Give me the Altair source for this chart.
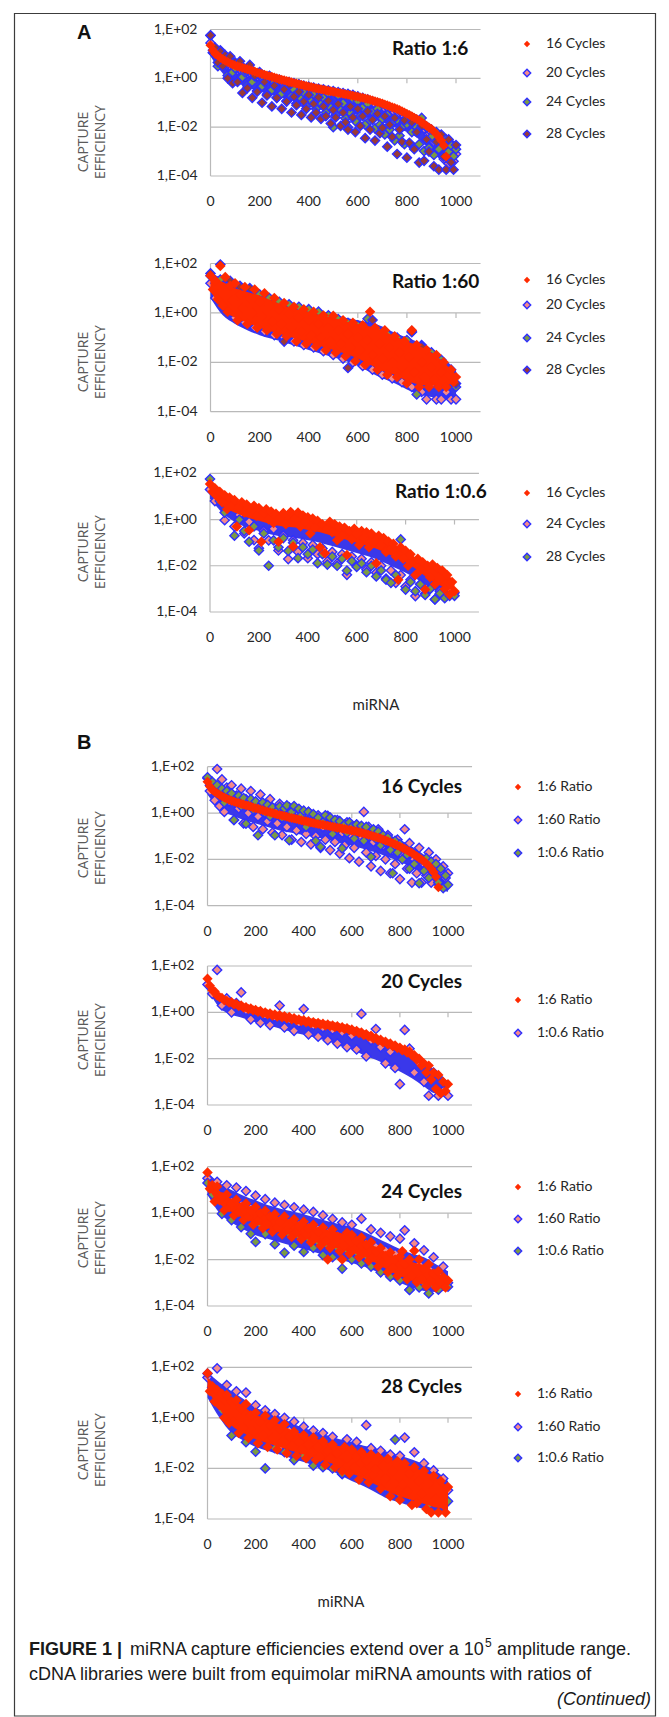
import altair as alt
import pandas as pd

W, H = 669, 1717

# ---------------------------------------------------------------------------
# Data: log10(capture efficiency), one value per rank step
# (R6 = ratio 1:6, R60 = ratio 1:60, R06 = ratio 1:0.6 ; C16 = 16 cycles ...)
# ---------------------------------------------------------------------------
R6_C16 = [1.35, 1.15, 1.0, 0.92, 0.85, 0.78, 0.72, 0.67, 0.62, 0.57,
          0.53, 0.5, 0.46, 0.43, 0.4, 0.37, 0.34, 0.31, 0.28, 0.24,
          0.21, 0.18, 0.15, 0.12, 0.09, 0.06, 0.03, 0.0, -0.03, -0.06,
          -0.08, -0.11, -0.13, -0.16, -0.19, -0.21, -0.24, -0.26, -0.29, -0.31,
          -0.34, -0.36, -0.39, -0.41, -0.43, -0.45, -0.47, -0.49, -0.51, -0.53,
          -0.55, -0.57, -0.59, -0.61, -0.63, -0.65, -0.67, -0.69, -0.71, -0.73,
          -0.75, -0.78, -0.8, -0.83, -0.85, -0.88, -0.91, -0.94, -0.97, -1.0,
          -1.03, -1.07, -1.1, -1.14, -1.18, -1.22, -1.26, -1.3, -1.35, -1.4,
          -1.45, -1.5, -1.55, -1.61, -1.67, -1.73, -1.8, -1.87, -1.94, -2.01,
          -2.08, -2.18, -2.28, -2.4, -2.55, -2.75, -3.2]

R6_C20 = [1.45, 1.15, 0.95, 0.9, 0.72, 0.66, 0.62, 0.52, 0.5, 0.42,
          0.44, 0.34, 0.36, 0.27, 0.3, 0.2, 0.22, 0.14, 0.17, 0.08,
          0.11, 0.02, 0.06, -0.04, 0.0, -0.09, -0.04, -0.14, -0.09, -0.18,
          -0.12, -0.22, -0.16, -0.26, -0.2, -0.3, -0.25, -0.35, -0.3, -0.38,
          -0.34, -0.43, -0.38, -0.47, -0.42, -0.5, -0.45, -0.53, -0.49, -0.57,
          -0.52, -0.6, -0.56, -0.64, -0.6, -0.68, -0.64, -0.72, -0.68, -0.77,
          -0.74, -0.84, -0.8, -0.9, -0.86, -0.98, -0.94, -1.05, -1.01, -1.13,
          -1.1, -1.22, -1.18, -1.3, -1.26, -1.38, -1.34, -1.46, -1.43, -1.55,
          -1.52, -1.64, -1.6, -1.74, -1.7, -1.86, -1.85, -2.05, -2.0, -2.3,
          -2.2, -2.6, -2.3, -2.9, -2.6, -3.3, -2.7, -3.5, -3.0, -3.4,
          -3.1]

R6_C24 = [1.75, 1.05, 1.2, 0.5, 1.15, 0.55, 0.7, 0.12, 0.8, 0.25,
          0.42, -0.1, 0.58, 0.05, 0.25, -0.3, 0.42, -0.15, 0.09, -0.5,
          0.26, -0.32, 0.0, -0.65, 0.1, -0.47, -0.15, -0.8, -0.05, -0.62,
          -0.37, -0.92, -0.15, -0.73, -0.47, -1.03, -0.26, -0.83, -0.58, -1.13,
          -0.37, -0.93, -0.66, -1.25, -0.5, -1.05, -0.8, -1.4, -0.62, -1.2,
          -2.0, -1.5, -0.7, -1.3, -1.02, -1.64, -2.0, -1.42, -0.85, -1.75,
          -0.94, -1.55, -1.2, -1.9, -1.05, -1.72, -1.36, -2.05, -1.25, -1.9,
          -1.65, -2.3, -1.5, -2.1, -1.85, -2.54, -1.7, -2.35, -2.0, -2.7,
          -1.88, -1.64, -2.2, -2.85, -2.0, -2.7, -1.62, -2.98, -2.0, -2.85,
          -2.4, -3.14, -2.2, -2.9, -2.6, -3.2, -2.5, -3.0, -2.75, -3.2,
          -2.9]

R6_C28 = [1.76, 1.05, 1.25, 0.65, 1.1, 0.5, 0.95, 0.0, 0.9, -0.2,
          0.65, -0.15, 0.7, -0.6, 0.35, -0.4, 0.55, -0.8, 0.1, -0.55,
          0.2, -1.0, -0.15, -0.7, 0.08, -1.15, -0.3, -0.8, -0.1, -1.25,
          -0.45, -0.95, -0.25, -1.4, -0.75, -1.1, -0.55, -1.5, -0.95, -1.25,
          -0.68, -1.6, -1.05, -1.4, -0.78, -1.66, -1.15, -1.55, -0.92, -1.85,
          -1.3, -1.6, -1.05, -1.95, -1.4, -1.8, -2.1, -1.15, -1.6, -2.2,
          -1.25, -1.95, -1.55, -2.45, -1.35, -2.1, -1.7, -2.55, -1.45, -2.25,
          -2.03, -1.55, -2.8, -1.9, -2.4, -1.62, -3.1, -2.1, -2.6, -1.72,
          -3.25, -2.64, -1.8, -2.9, -2.2, -3.45, -1.95, -3.38, -2.5, -3.0,
          -2.1, -3.6, -2.6, -3.74, -2.3, -3.2, -3.74, -2.5, -3.44, -3.74,
          -2.73]

R60_C16 = [1.5, 0.95, 1.3, 0.55, 1.9, 0.3, 1.45, 0.05, 1.1, 0.5,
           1.2, -0.3, 0.75, 0.2, 1.05, -0.45, 0.6, 0.0, 0.95, -0.6,
           0.45, -0.15, 0.8, -0.7, 0.3, -0.35, 0.6, -0.85, 0.15, -0.45,
           0.4, -0.95, -0.05, -0.6, 0.25, -1.15, -0.2, -0.75, 0.15, -1.25,
           -0.3, -0.9, 0.05, -1.35, -0.45, -1.0, -0.1, -1.5, -0.6, -1.15,
           -0.12, -1.6, -0.7, -1.25, -0.3, -1.75, -0.85, -1.4, -0.4, -1.95,
           -1.0, -1.5, -0.5, -2.1, -1.1, 0.05, -1.7, -0.6, -2.3, -1.25,
           -1.85, -0.7, -2.5, -1.4, -2.0, -0.95, -2.6, -1.6, -2.2, -1.15,
           -2.85, -1.8, -0.7, -2.4, -1.3, -3.0, -2.0, -2.6, -1.5, -3.0,
           -2.2, -2.7, -1.7, -3.0, -2.4, -2.0, -3.0, -2.5, -2.3, -2.8,
           -2.6]

R06_C16 = [1.54, 1.2, 1.35, 1.0, 1.2, 0.75, 1.05, 0.45, 0.95, 0.6,
           0.85, -0.3, 0.55, 0.75, 0.3, 0.65, -0.46, 0.4, 0.6, 0.15,
           0.5, -0.96, 0.3, 0.45, 0.0, 0.35, -0.15, 0.25, -0.96, 0.1,
           0.28, -0.2, 0.2, 0.33, -1.17, 0.05, 0.3, -0.3, 0.18, -0.1,
           0.1, -0.6, 0.05, -0.35, -0.05, -1.2, -0.2, -1.46, -0.4, -0.1,
           -0.55, -0.2, -0.9, -0.3, -0.7, -0.35, -1.53, -0.5, -0.85, -0.4,
           -0.6, -1.1, -0.5, -0.8, -0.55, -1.2, -0.6, -1.0, -1.89, -0.7,
           -1.1, -0.8, -1.4, -0.95, -1.25, -1.05, -1.6, -2.6, -1.2, -1.7,
           -1.35, -2.0, -1.5, -1.8, -2.4, -1.7, -2.2, -1.85, -3.03, -2.0,
           -2.5, -1.95, -2.8, -2.1, -2.6, -2.2, -3.0, -2.4, -3.24, -2.7,
           -3.1]

R60_C20 = [1.2, 0.6, 0.9, 0.2, 0.55, -0.2, 0.3, -0.4, 0.1, -0.6,
           -0.1, -0.75, -0.2, -0.9, -0.35, -1.0, -0.45, -1.15, -0.6, -1.3,
           -0.7, -1.4, -0.85, -1.55, -1.0, -1.7, -1.1, -1.85, -1.25, -2.0,
           -1.4, -2.15, -1.55, -2.3, -1.7, -2.5, -1.9, -2.65, -2.1, -2.8,
           -2.3, -3.0, -2.5, -3.2, -3.5, -2.9, -3.5, -3.5, -3.2, -3.5,
           -3.5]

R60_C24 = [1.5, 1.0, 1.35, 0.7, 1.2, 0.5, 1.1, 0.35, 0.95, 0.2,
           0.75, 0.0, 0.6, -0.15, 0.45, -0.3, 0.35, -0.4, 0.25, -0.5,
           0.15, -0.6, 0.05, -0.7, -0.1, -0.85, -0.25, -0.95, -0.4, -1.05,
           -0.5, -1.15, -0.24, -1.3, -0.7, -1.45, -0.85, -1.6, -1.0, -1.75,
           -1.1, -0.74, -3.3, -1.3, -2.2, -1.6, -2.4, -1.9, -2.7, -2.3,
           -3.0]

R60_C28 = [1.6, 1.2, 1.96, 0.9, 1.3, 0.6, 1.05, 0.3, 1.0, 0.1,
           0.5, -0.2, 0.3, -0.4, 0.15, -1.16, 0.0, -0.5, -0.15, -0.75,
           -0.35, -0.9, -0.5, -1.05, -0.6, -1.2, -0.75, -1.3, -2.23, -0.85,
           -1.45, -0.95, -1.6, -0.29, -1.2, -1.75, -1.3, -1.85, -1.45, -2.0,
           -1.5, -0.78, -2.15, -1.36, -2.3, -1.8, -2.5, -2.08, -2.7, -2.4,
           -2.86]

R06_C20 = [1.2, 0.8, 1.83, 0.3, 0.6, 0.0, 0.4, 0.86, 0.1, -0.3,
           0.05, -0.45, -0.1, -0.55, -0.2, 0.29, -0.65, -0.3, -0.8, -0.45,
           0.14, -0.95, -0.55, -1.05, -0.65, -1.2, -0.75, -1.35, -0.85, -1.5,
           -1.0, -1.6, -0.07, -1.9, -1.2, -0.72, -1.5, -2.2, -1.7, -2.4,
           -3.1, -0.76, -1.57, -2.6, -2.2, -3.0, -3.6, -2.6, -3.6, -3.4,
           -3.6]

R06_C24 = [1.3, 0.8, 0.9, -0.03, 0.5, -0.3, 0.2, -0.6, -0.1, -0.89,
           -1.24, -0.5, -0.9, -0.4, -1.34, -0.7, -1.71, -0.9, -1.4, -1.0,
           -1.67, -1.1, -1.5, -1.25, -1.81, -1.4, -1.9, -1.5, -2.39, -1.6,
           -2.0, -1.7, -2.17, -1.85, -2.3, -2.0, -2.55, -2.2, -2.74, -2.4,
           -2.9, -2.6, -3.31, -2.8, -3.2, -3.0, -3.46, -3.1, -3.3, -3.0,
           -3.17]

R06_C28 = [1.75, 1.2, 0.8, 0.3, 0.5, -0.7, 0.0, -0.5, -0.96, -0.3,
           -1.34, -0.6, -2.0, -0.9, -1.2, -0.8, -1.36, -1.0, -1.67, -1.2,
           -1.5, -1.3, -1.89, -1.5, -1.95, -1.6, -2.0, -1.7, -2.21, -1.8,
           -2.05, -1.9, -2.28, -2.0, -2.46, -2.2, -2.6, -2.74, -2.4, -0.86,
           -3.03, -2.7, -3.1, -2.8, -3.26, -3.0, -3.45, -3.2, -3.4, -3.3,
           -3.3]

DATA = {"R6_C16": R6_C16, "R6_C20": R6_C20, "R6_C24": R6_C24, "R6_C28": R6_C28,
        "R60_C16": R60_C16, "R60_C20": R60_C20, "R60_C24": R60_C24, "R60_C28": R60_C28,
        "R06_C16": R06_C16, "R06_C20": R06_C20, "R06_C24": R06_C24, "R06_C28": R06_C28}
# miRNA rank spacing between consecutive values of each list
STEP = {"R6_C16": 10, "R6_C20": 10, "R6_C24": 10, "R6_C28": 10,
        "R60_C16": 10, "R60_C20": 20, "R60_C24": 20, "R60_C28": 20,
        "R06_C16": 10, "R06_C20": 20, "R06_C24": 20, "R06_C28": 20}

# Envelopes (upper / lower log10 edge, every 50 ranks) of the solid cores where
# hundreds of overlapping markers merge into one coloured mass.
BAND_STEP = 50
A1_BLUE_HI = [1.5, 0.95, 0.65, 0.5, 0.35, 0.2, 0.05, -0.08, -0.2, -0.32, -0.42,
              -0.52, -0.62, -0.75, -0.9, -1.08, -1.3, -1.55, -1.9, -2.3, -2.6]
A1_BLUE_LO = [0.9, 0.2, -0.15, -0.35, -0.54, -0.68, -0.82, -0.95, -1.1, -1.2, -1.3,
              -1.4, -1.5, -1.65, -1.8, -2.0, -2.2, -2.5, -3.0, -3.4, -3.5]
A2_RED_HI = [1.4, 1.25, 1.0, 0.85, 0.7, 0.5, 0.3, 0.15, 0.05, -0.1, -0.2,
             -0.35, -0.45, -0.55, -0.7, -0.95, -1.15, -1.35, -1.6, -2.0, -2.5]
A2_RED_LO = [0.9, 0.15, -0.2, -0.4, -0.6, -0.75, -0.9, -1.05, -1.2, -1.35, -1.5,
             -1.65, -1.85, -2.1, -2.35, -2.5, -2.75, -2.9, -2.95, -2.95, -2.8]
A2_BLUE_HI = [1.6, 1.4, 1.15, 1.0, 0.85, 0.65, 0.45, 0.3, 0.2, 0.05, -0.05,
              -0.2, -0.3, -0.4, -0.55, -0.8, -1.0, -1.2, -1.45, -1.85, -2.3]
A2_BLUE_LO = [0.6, -0.1, -0.45, -0.7, -0.9, -1.05, -1.2, -1.35, -1.5, -1.65, -1.8,
              -1.95, -2.15, -2.4, -2.65, -2.85, -3.1, -3.3, -3.4, -3.5, -3.5]
A3_RED_HI = [1.5, 1.1, 0.85, 0.65, 0.5, 0.32, 0.28, 0.3, 0.1, -0.05, -0.2,
             -0.35, -0.46, -0.6, -0.75, -1.05, -1.35, -1.7, -1.95, -2.15, -2.7]
A3_RED_LO = [1.1, 0.6, 0.3, 0.1, -0.05, -0.2, -0.3, -0.35, -0.45, -0.55, -0.7,
             -0.85, -1.0, -1.15, -1.35, -1.6, -1.85, -2.2, -2.6, -2.9, -3.1]
A3_BLUE_HI = [1.2, 0.7, 0.4, 0.2, 0.05, -0.1, -0.2, -0.25, -0.35, -0.45, -0.6,
              -0.75, -0.9, -1.05, -1.25, -1.5, -1.75, -2.1, -2.5, -2.8, -3.0]
A3_BLUE_LO = [0.9, 0.3, -0.1, -0.35, -0.5, -0.65, -0.75, -0.8, -0.9, -1.0, -1.15,
              -1.3, -1.45, -1.6, -1.8, -2.05, -2.3, -2.6, -2.95, -3.2, -3.3]
B1_BLUE_HI = [1.7, 1.1, 0.8, 0.6, 0.45, 0.3, 0.15, 0.05, -0.1, -0.2, -0.3,
              -0.4, -0.5, -0.6, -0.75, -0.95, -1.15, -1.45, -1.8, -2.3, -2.6]
B1_BLUE_LO = [0.8, 0.15, -0.1, -0.3, -0.45, -0.6, -0.75, -0.85, -0.95, -1.05, -1.15,
              -1.3, -1.4, -1.55, -1.7, -1.9, -2.1, -2.35, -2.7, -3.2, -3.4]
B2_BLUE_HI = [1.3, 0.7, 0.45, 0.25, 0.1, -0.02, -0.14, -0.26, -0.36, -0.44, -0.52,
              -0.6, -0.72, -0.9, -1.1, -1.35, -1.6, -1.9, -2.2, -2.5, -3.0]
B2_BLUE_LO = [1.0, 0.2, -0.1, -0.25, -0.43, -0.55, -0.7, -0.85, -0.97, -1.1, -1.25,
              -1.45, -1.6, -1.85, -2.05, -2.3, -2.55, -2.85, -3.2, -3.5, -3.5]
B3_RED_HI = [1.5, 0.95, 0.6, 0.38, 0.2, 0.0, -0.18, -0.3, -0.43, -0.6, -0.73,
             -0.85, -1.0, -1.17, -1.46, -1.72, -1.94, -2.1, -2.25, -2.55, -2.9]
B3_RED_LO = [1.1, 0.4, 0.05, -0.22, -0.45, -0.64, -0.82, -0.95, -1.08, -1.25, -1.4,
             -1.55, -1.7, -1.87, -2.15, -2.45, -2.7, -2.9, -3.05, -3.15, -3.15]
B3_BLUE_HI = [1.75, 1.3, 1.0, 0.75, 0.55, 0.35, 0.2, 0.08, -0.05, -0.2, -0.35,
              -0.48, -0.6, -0.8, -1.05, -1.3, -1.55, -1.75, -1.9, -2.2, -2.5]
B3_BLUE_LO = [0.8, 0.0, -0.4, -0.7, -0.95, -1.1, -1.25, -1.4, -1.55, -1.7, -1.85,
              -2.0, -2.15, -2.3, -2.5, -2.75, -3.0, -3.2, -3.35, -3.4, -3.3]
B4_RED_HI = [1.6, 1.15, 0.8, 0.45, 0.12, -0.05, -0.25, -0.48, -0.68, -0.82, -0.97,
             -1.12, -1.22, -1.36, -1.47, -1.62, -1.77, -1.93, -2.12, -2.38, -2.7]
B4_RED_LO = [1.1, 0.35, -0.3, -0.6, -0.85, -1.0, -1.15, -1.3, -1.45, -1.6, -1.75,
             -1.95, -2.2, -2.4, -2.65, -2.9, -3.1, -3.25, -3.4, -3.55, -3.6]
B4_BLUE_HI = [1.8, 1.4, 1.05, 0.75, 0.4, 0.25, 0.05, -0.2, -0.4, -0.55, -0.7,
              -0.85, -0.95, -1.1, -1.2, -1.35, -1.5, -1.65, -1.85, -2.1, -2.5]
B4_BLUE_LO = [0.8, 0.0, -0.6, -0.9, -1.15, -1.3, -1.45, -1.6, -1.75, -1.9, -2.05,
              -2.25, -2.5, -2.7, -2.95, -3.2, -3.35, -3.5, -3.6, -3.7, -3.7]

Y_TICKS = [1e2, 1.0, 1e-2, 1e-4]
Y_LABELS = ["1,E+02", "1,E+00", "1,E-02", "1,E-04"]
X_TICKS = [0, 200, 400, 600, 800, 1000]

# ---------------------------------------------------------------------------
RED = "#ff2a00"
BLUE = "#2f2fff"
MASS_BLUE = "#3a38ea"
FILL = {"pink": "#f48a8a", "green": "#7b9a45", "brown": "#9a3a36"}
GRID = "#b9b9b9"
TXT = "#262626"
FONT = "Lato"

PANELS = [
    dict(x0=210.5, k=0.2455, ytop=29.5, ybot=176.0, title="Ratio 1:6", tx=392, ty=49, red=100,
         blue=(A1_BLUE_HI, A1_BLUE_LO), core=None,
         series=[("R6_C20", "pink"), ("R6_C24", "green"), ("R6_C28", "brown"), ("R6_C16", "red")],
         legend=[("16 Cycles", "red", 44), ("20 Cycles", "pink", 73),
                 ("24 Cycles", "green", 102), ("28 Cycles", "brown", 134)],
         lx=527, yt=142),
    dict(x0=210.5, k=0.2455, ytop=263.5, ybot=411.7, title="Ratio 1:60", tx=392, ty=282, red=110,
         blue=(A2_BLUE_HI, A2_BLUE_LO), core=(A2_RED_HI, A2_RED_LO),
         series=[("R60_C20", "pink"), ("R60_C24", "green"), ("R60_C28", "brown"), ("R60_C16", "red")],
         legend=[("16 Cycles", "red", 280), ("20 Cycles", "pink", 305),
                 ("24 Cycles", "green", 338), ("28 Cycles", "brown", 370)],
         lx=527, yt=362),
    dict(x0=210.0, k=0.2445, ytop=473.3, ybot=612.0, title="Ratio 1:0.6", tx=395, ty=492, red=110,
         blue=(A3_BLUE_HI, A3_BLUE_LO), core=(A3_RED_HI, A3_RED_LO),
         series=[("R06_C24", "pink"), ("R06_C28", "green"), ("R06_C16", "red")],
         legend=[("16 Cycles", "red", 493), ("24 Cycles", "pink", 524), ("28 Cycles", "green", 557)],
         lx=527, yt=552),
    dict(x0=207.5, k=0.2405, ytop=766.7, ybot=905.7, title="16 Cycles", tx=381, ty=787, red=100,
         blue=(B1_BLUE_HI, B1_BLUE_LO), core=None,
         series=[("R60_C16", "pink"), ("R06_C16", "green"), ("R6_C16", "red")],
         legend=[("1:6 Ratio", "red", 787), ("1:60 Ratio", "pink", 820), ("1:0.6 Ratio", "green", 853)],
         lx=518, yt=848),
    dict(x0=207.5, k=0.2405, ytop=966.0, ybot=1105.0, title="20 Cycles", tx=381, ty=982, red=105,
         blue=(B2_BLUE_HI, B2_BLUE_LO), core=None,
         series=[("R06_C20", "pink"), ("R6_C20", "red")],
         legend=[("1:6 Ratio", "red", 1000), ("1:0.6 Ratio", "pink", 1033)],
         lx=518, yt=1040),
    dict(x0=207.5, k=0.2405, ytop=1166.7, ybot=1306.0, title="24 Cycles", tx=381, ty=1192, red=110,
         blue=(B3_BLUE_HI, B3_BLUE_LO), core=(B3_RED_HI, B3_RED_LO),
         series=[("R60_C24", "pink"), ("R06_C24", "green"), ("R6_C24", "red")],
         legend=[("1:6 Ratio", "red", 1187), ("1:60 Ratio", "pink", 1219), ("1:0.6 Ratio", "green", 1251)],
         lx=518, yt=1238),
    dict(x0=207.5, k=0.2405, ytop=1367.3, ybot=1519.0, title="28 Cycles", tx=381, ty=1387, red=110,
         blue=(B4_BLUE_HI, B4_BLUE_LO), core=(B4_RED_HI, B4_RED_LO),
         series=[("R60_C28", "pink"), ("R06_C28", "green"), ("R6_C28", "red")],
         legend=[("1:6 Ratio", "red", 1394), ("1:60 Ratio", "pink", 1427), ("1:0.6 Ratio", "green", 1458)],
         lx=518, yt=1450),
]

layers = []

# outer frame
frame = pd.DataFrame({"a": [14.5], "b": [655.5], "c": [13.5], "d": [1716.0]})
layers.append(alt.Chart(frame).mark_rect(fillOpacity=0, stroke="#3c3c3c", strokeWidth=1.2).encode(
    x=alt.X("a:Q", scale=None), x2="b:Q", y=alt.Y("c:Q", scale=None), y2="d:Q"))

titles, leg_text, ytitles = [], [], []
leg_marks = {"red": [], "pink": [], "green": [], "brown": []}


def band_frame(hi, lo):
    return pd.DataFrame({"x": [i * BAND_STEP for i in range(len(hi))],
                         "hi": [10 ** v for v in hi], "lo": [10 ** v for v in lo]})


for p in PANELS:
    xs = alt.Scale(domain=[0, 1100], range=[p["x0"], p["x0"] + 1100 * p["k"]], nice=False, zero=False)
    ys = alt.Scale(type="log", domain=[1e-4, 1e2], range=[p["ybot"], p["ytop"]], nice=False)

    def X(f, xs=xs):
        return alt.X(f, scale=xs, axis=None)

    def Y(f, ys=ys):
        return alt.Y(f, scale=ys, axis=None)

    grid = pd.DataFrame({"x0": [0] * 4, "x1": [1100] * 4, "y": Y_TICKS})
    layers.append(alt.Chart(grid).mark_rule(color=GRID, strokeWidth=1.2).encode(
        x=X("x0:Q"), x2="x1:Q", y=Y("y:Q")))
    axis = pd.DataFrame({"x": [0], "y0": [1e-4], "y1": [1e2]})
    layers.append(alt.Chart(axis).mark_rule(color=GRID, strokeWidth=1.2).encode(
        x=X("x:Q"), y=Y("y0:Q"), y2="y1:Q"))
    ticks = pd.DataFrame({"x": X_TICKS[1:], "y": [1.0] * 5, "y2": [1.0] * 5})
    layers.append(alt.Chart(ticks).mark_rule(color=GRID, strokeWidth=1.2, y2Offset=5).encode(
        x=X("x:Q"), y=Y("y:Q"), y2="y2:Q"))

    ylab = pd.DataFrame({"x": [0] * 4, "y": Y_TICKS, "t": Y_LABELS})
    layers.append(alt.Chart(ylab).mark_text(align="right", baseline="middle", dx=-13, font=FONT,
                                             fontSize=14, color=TXT).encode(
        x=X("x:Q"), y=Y("y:Q"), text="t:N"))
    xlab = pd.DataFrame({"x": X_TICKS, "y": [1e-4] * 6, "t": [str(v) for v in X_TICKS]})
    layers.append(alt.Chart(xlab).mark_text(align="center", baseline="middle", dy=26, font=FONT,
                                             fontSize=14, color=TXT).encode(
        x=X("x:Q"), y=Y("y:Q"), text="t:N"))

    # solid blue mass formed by the blue-edged markers
    hi, lo = p["blue"]
    layers.append(alt.Chart(band_frame(hi, lo)).mark_area(color=MASS_BLUE, opacity=1, interpolate="monotone").encode(
        x=X("x:Q"), y=Y("hi:Q"), y2="lo:Q"))

    for name, style in p["series"]:
        vals = DATA[name]
        step = STEP[name]
        df = pd.DataFrame({"x": [i * step for i in range(len(vals))], "y": [10 ** v for v in vals]})
        if style == "red":
            if p["core"] is not None:
                chi, clo = p["core"]
                layers.append(alt.Chart(band_frame(chi, clo)).mark_area(
                    color=RED, opacity=1, interpolate="monotone").encode(
                    x=X("x:Q"), y=Y("hi:Q"), y2="lo:Q"))
            m = alt.Chart(df).mark_point(shape="diamond", filled=True, size=p["red"], color=RED, opacity=1)
        else:
            m = alt.Chart(df).mark_point(shape="diamond", filled=True, size=85, fill=FILL[style],
                                         stroke=BLUE, strokeWidth=1.4, opacity=1)
        layers.append(m.encode(x=X("x:Q"), y=Y("y:Q")))

    titles.append({"px": p["tx"], "py": p["ty"], "t": p["title"]})
    for lab, style, yy in p["legend"]:
        leg_marks[style].append({"px": p["lx"], "py": yy})
        leg_text.append({"px": p["lx"] + 19, "py": yy, "t": lab})
    ytitles.append({"px": 84, "py": p["yt"], "t": "CAPTURE"})
    ytitles.append({"px": 101, "py": p["yt"], "t": "EFFICIENCY"})

PX = alt.X("px:Q", scale=None)
PY = alt.Y("py:Q", scale=None)

layers.append(alt.Chart(pd.DataFrame(titles)).mark_text(
    align="left", baseline="middle", font=FONT, fontWeight="bold", fontSize=19, color="#111").encode(
    x=PX, y=PY, text="t:N"))
layers.append(alt.Chart(pd.DataFrame(leg_text)).mark_text(
    align="left", baseline="middle", font=FONT, fontSize=14, color=TXT).encode(x=PX, y=PY, text="t:N"))
for style, rows in leg_marks.items():
    if not rows:
        continue
    if style == "red":
        m = alt.Chart(pd.DataFrame(rows)).mark_point(shape="diamond", filled=True, size=40, color=RED, opacity=1)
    else:
        m = alt.Chart(pd.DataFrame(rows)).mark_point(shape="diamond", filled=True, size=55, fill=FILL[style],
                                                     stroke=BLUE, strokeWidth=1.4, opacity=1)
    layers.append(m.encode(x=PX, y=PY))
layers.append(alt.Chart(pd.DataFrame(ytitles)).mark_text(
    align="center", baseline="middle", angle=270, font="Open Sans", fontSize=14, color="#5a5a5a").encode(
    x=PX, y=PY, text="t:N"))

# miRNA axis titles and panel letters
misc = pd.DataFrame({"px": [376, 341], "py": [705, 1602], "t": ["miRNA", "miRNA"]})
layers.append(alt.Chart(misc).mark_text(align="center", baseline="middle", font=FONT, fontSize=15,
                                        color=TXT).encode(x=PX, y=PY, text="t:N"))
letters = pd.DataFrame({"px": [77, 77], "py": [33, 743], "t": ["A", "B"]})
layers.append(alt.Chart(letters).mark_text(align="left", baseline="middle", font="Liberation Sans",
                                           fontWeight="bold", fontSize=20, color="#111").encode(
    x=PX, y=PY, text="t:N"))

# caption
CAP = "Liberation Sans"
cap_bold = pd.DataFrame({"px": [29], "py": [1650], "t": ["FIGURE 1 |"]})
layers.append(alt.Chart(cap_bold).mark_text(align="left", baseline="middle", font=CAP, fontWeight="bold",
                                            fontSize=18, color="#1a1a1a").encode(x=PX, y=PY, text="t:N"))
cap_norm = pd.DataFrame({"px": [130, 497, 29], "py": [1650, 1650, 1675],
                         "t": ["miRNA capture efficiencies extend over a 10", "amplitude range.",
                               "cDNA libraries were built from equimolar miRNA amounts with ratios of"]})
layers.append(alt.Chart(cap_norm).mark_text(align="left", baseline="middle", font=CAP, fontSize=18,
                                            color="#1a1a1a").encode(x=PX, y=PY, text="t:N"))
cap_sup = pd.DataFrame({"px": [485], "py": [1643], "t": ["5"]})
layers.append(alt.Chart(cap_sup).mark_text(align="left", baseline="middle", font=CAP, fontSize=12,
                                           color="#1a1a1a").encode(x=PX, y=PY, text="t:N"))
cap_it = pd.DataFrame({"px": [651], "py": [1700], "t": ["(Continued)"]})
layers.append(alt.Chart(cap_it).mark_text(align="right", baseline="middle", font=CAP, fontStyle="italic",
                                          fontSize=18, color="#1a1a1a").encode(x=PX, y=PY, text="t:N"))

chart = alt.layer(*layers).resolve_scale(x="independent", y="independent").properties(
    width=W, height=H, autosize=alt.AutoSizeParams(type="none"), padding=0, background="white"
).configure_view(stroke=None)

chart.save("out.html", embed_options={"renderer": "svg", "actions": False})
